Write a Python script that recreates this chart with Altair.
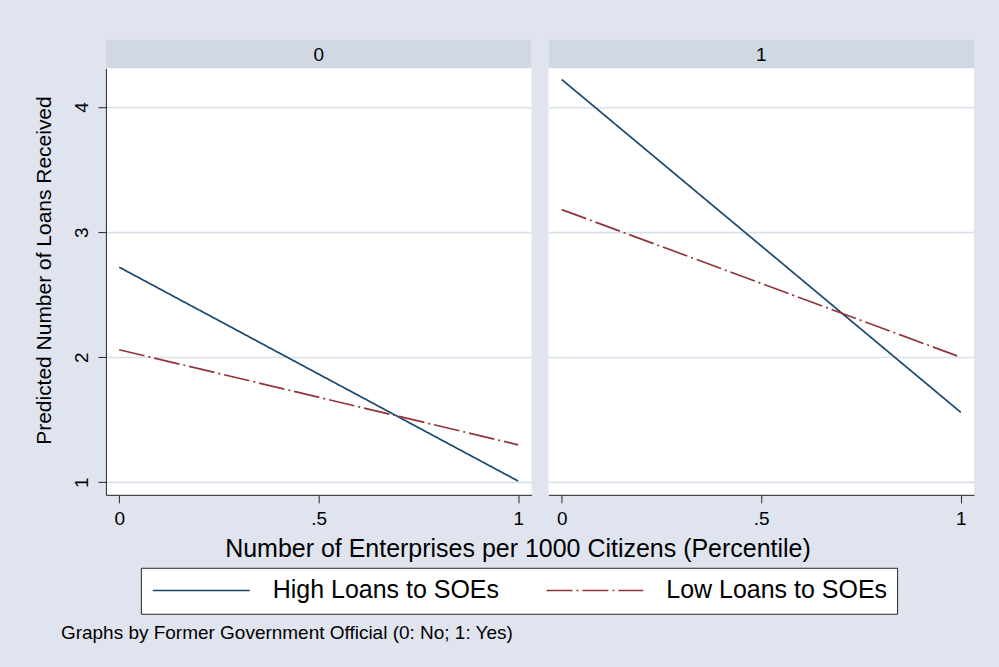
import altair as alt
import pandas as pd

# Former government official groups (panel labels)
groups = ["0", "1"]
series = ["High Loans to SOEs", "Low Loans to SOEs"]
# Enterprise-density percentile at the ends of each prediction line
x_values = [0.0, 1.0]
# Predicted number of loans received at x = 0 and x = 1
high_0 = [2.72, 1.01]
low_0 = [2.06, 1.30]
high_1 = [4.22, 1.56]
low_1 = [3.18, 2.00]

x_ticks = [0, 0.5, 1]
y_ticks = [1, 2, 3, 4]

rows = []
for g, hi, lo in zip(groups, [high_0, high_1], [low_0, low_1]):
    for s, vals in zip(series, [hi, lo]):
        for x, v in zip(x_values, vals):
            rows.append({"official": g, "series": s, "x": x, "y": v})
df = pd.DataFrame(rows)

FONT = "Liberation Sans"
W, H, HEAD = 426, 427, 29
BG = "#dfe4ee"
STRIP = "#d1d8e3"
GRID = "#dae0ea"
AX = "#262626"

color_scale = alt.Scale(domain=series, range=["#1a476f", "#90353b"])
dash_scale = alt.Scale(domain=series, range=[[1, 0], [26, 4, 2, 4]])
x_scale = alt.Scale(domain=[-1 / 30, 1 + 1 / 30], nice=False, zero=False)
# plotting region sits below the panel's label strip
y_scale = alt.Scale(domain=[0.9, 4.31], range=[H + HEAD, HEAD],
                    nice=False, zero=False)
tick_labels = "datum.value == 0.5 ? '.5' : format(datum.value, 'd')"


def panel(g, first):
    if first:
        x_axis = alt.Axis(
            values=x_ticks, grid=False, tickSize=8, tickColor=AX,
            domainColor=AX, labelFontSize=19, labelPadding=7,
            labelBaseline="top", labelColor="black", labelFont=FONT,
            labelExpr=tick_labels,
            title="Number of Enterprises per 1000 Citizens (Percentile)",
            titleFontSize=25, titleFont=FONT, titleFontWeight="normal",
            titleColor="black", titleX=412, titleY=62, titleAlign="center",
            titleBaseline="alphabetic",
        )
        y_axis = alt.Axis(
            values=y_ticks, grid=True, gridColor=GRID, gridWidth=1.6,
            tickSize=8, tickColor=AX, domainColor=AX,
            labelFontSize=19, labelAngle=270, labelAlign="center",
            labelBaseline="alphabetic", labelPadding=10, labelColor="black",
            labelFont=FONT,
            title="Predicted Number of Loans Received",
            titleFontSize=21, titleFont=FONT, titleFontWeight="normal",
            titleColor="black", titleAngle=270, titleX=-61, titleY=231,
            titleAlign="center", titleBaseline="middle",
        )
        x_enc = alt.X("x:Q", scale=x_scale, axis=x_axis)
        y_enc = alt.Y("y:Q", scale=y_scale, axis=y_axis)
    else:
        x_axis = alt.Axis(
            values=x_ticks, grid=False, tickSize=8, tickColor=AX,
            domainColor=AX, labelFontSize=19, labelPadding=7,
            labelBaseline="top", labelColor="black", labelFont=FONT,
            labelExpr=tick_labels,
        )
        y_axis = alt.Axis(values=y_ticks, grid=True, gridColor=GRID,
                          gridWidth=1.6, labels=False, ticks=False,
                          domain=False)
        x_enc = alt.X("x:Q", scale=x_scale, axis=x_axis, title=None)
        y_enc = alt.Y("y:Q", scale=y_scale, axis=y_axis, title=None)

    lines = (
        alt.Chart(df)
        .transform_filter(alt.datum.official == g)
        .mark_line(strokeWidth=1.7)
        .encode(
            x=x_enc,
            y=y_enc,
            color=alt.Color("series:N", scale=color_scale, title=None),
            strokeDash=alt.StrokeDash("series:N", scale=dash_scale, title=None),
            detail="series:N",
        )
    )

    label_data = pd.DataFrame({"official": [g]})
    strip = alt.Chart(label_data).mark_rect(color=STRIP).encode(
        x=alt.value(0), x2=alt.value(W), y=alt.value(0), y2=alt.value(HEAD)
    )
    strip_text = alt.Chart(label_data).mark_text(
        fontSize=19, font=FONT, color="black", baseline="middle"
    ).encode(x=alt.value(W / 2), y=alt.value(HEAD / 2 + 1), text="official:N")

    return alt.layer(lines, strip, strip_text).properties(
        width=W, height=H + HEAD,
        view=alt.ViewBackground(fill="white", strokeWidth=0),
    )


chart = (
    alt.hconcat(panel("0", True), panel("1", False), spacing=17,
                bounds="flush")
    .resolve_scale(color="shared", strokeDash="shared")
    .properties(
        background=BG,
        padding={"left": 33, "top": 39, "right": 25, "bottom": 25},
        title=alt.TitleParams(
            text="Graphs by Former Government Official (0: No; 1: Yes)",
            orient="bottom", anchor="start", frame="group", fontSize=19,
            font=FONT, fontWeight="normal", color="black", dx=-45,
            offset=10, baseline="top",
        ),
    )
    .configure_legend(
        orient="none", legendX=35, legendY=529, direction="horizontal",
        fillColor="white", strokeColor=AX, strokeWidth=1, padding=10,
        labelFontSize=25, labelFont=FONT, labelColor="black", labelLimit=400,
        symbolType="M-5,0H5", symbolSize=376, symbolStrokeWidth=1.7,
        symbolOffset=38, labelOffset=59, columnPadding=43,
    )
)

chart.save("out.html", embed_options={"renderer": "svg", "actions": False})
